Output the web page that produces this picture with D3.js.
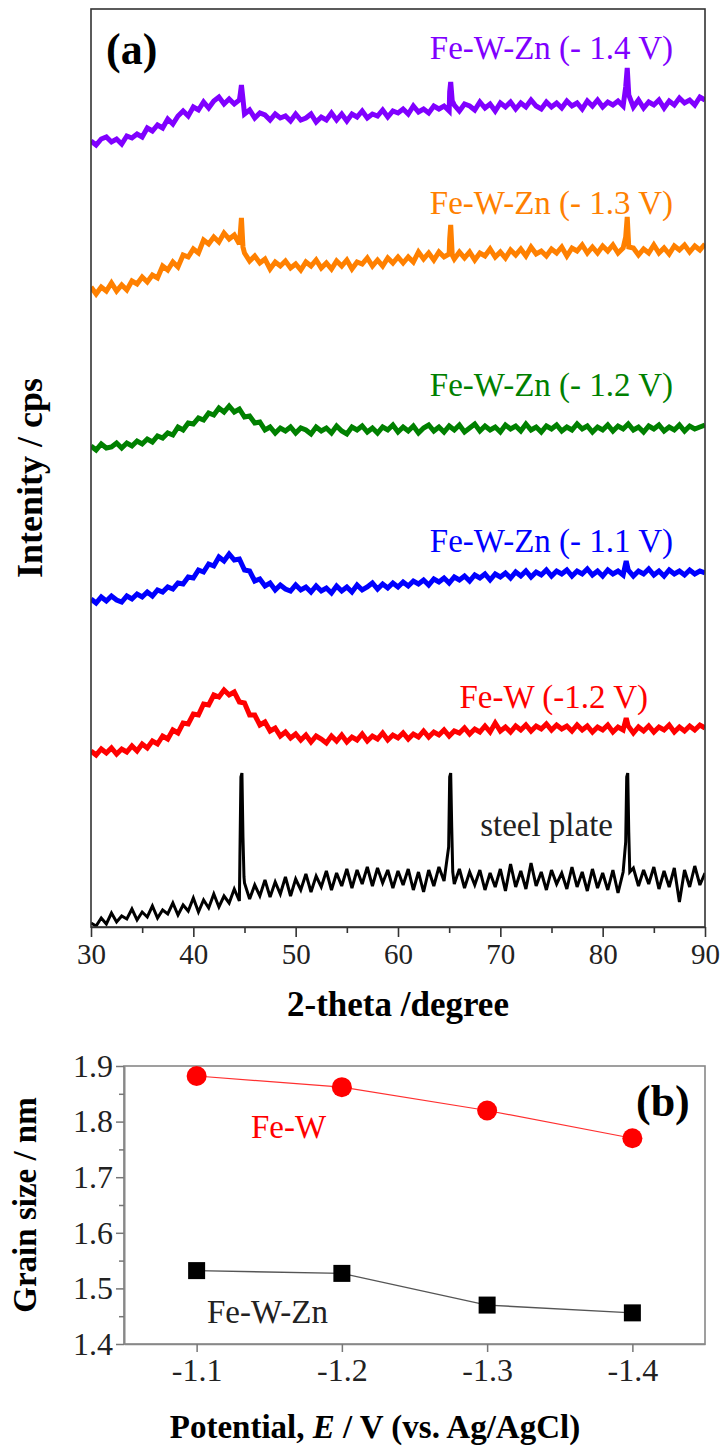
<!DOCTYPE html>
<html>
<head>
<meta charset="utf-8">
<script src="https://cdn.jsdelivr.net/npm/d3@7"></script>
<style>
body { margin: 0; background: #fff; }
svg text { font-family: "Liberation Serif", "Times New Roman", serif; }
</style>
</head>
<body>
<div id="chart"></div>
<script>
// ---------- panel (a) data : XRD patterns, intensity in a.u. (already stacked) ----------
const twoTheta = [
  30,30.5,31,31.5,32,32.5,33,33.5,34,34.5,35,35.5,36,36.5,37,37.5,38,38.5,39,39.5,
  40,40.5,41,41.5,42,42.5,43,43.5,44,44.5,45,45.5,46,46.5,47,47.5,48,48.5,49,49.5,
  50,50.5,51,51.5,52,52.5,53,53.5,54,54.5,55,55.5,56,56.5,57,57.5,58,58.5,59,59.5,
  60,60.5,61,61.5,62,62.5,63,63.5,64,64.5,65,65.5,66,66.5,67,67.5,68,68.5,69,69.5,
  70,70.5,71,71.5,72,72.5,73,73.5,74,74.5,75,75.5,76,76.5,77,77.5,78,78.5,79,79.5,
  80,80.5,81,81.5,82,82.5,83,83.5,84,84.5,85,85.5,86,86.5,87,87.5,88,88.5,89,89.5,90
];

const fewzn14 = [
  786,782,788,790,785,788,783,791,789,793,790,799,796,802,799,808,803,811,816,811,
  820,817,825,819,826,830,823,828,823,827,813,817,809,814,812,807,813,809,811,806,
  813,807,809,813,805,810,807,814,807,813,806,813,810,816,809,813,811,817,810,816,
  814,818,813,821,815,818,814,821,818,821,816,822,816,823,821,817,825,819,823,816,
  824,820,825,818,824,820,827,821,818,825,820,824,819,826,821,824,818,826,821,827,
  820,825,822,826,821,825,820,827,819,825,822,827,819,826,822,829,824,827,822,830,827
];
const fewzn14Peaks = [
  [[44.6, 834], [44.7, 842], [44.85, 828]],
  [[65.05, 835], [65.15, 845], [65.3, 826]],
  [[82.25, 840], [82.4, 859], [82.55, 832]]
];

const fewzn13 = [
  640,633,640,636,644,636,642,637,646,643,650,645,652,649,661,657,665,660,672,670,
  678,674,687,683,690,685,694,688,692,683,674,666,671,664,668,658,665,661,666,659,
  663,657,665,661,667,659,664,658,666,661,667,658,665,663,669,661,667,661,669,664,
  670,664,670,665,675,668,674,667,675,670,673,668,675,669,675,667,674,671,678,670,
  675,669,677,672,678,671,680,673,676,671,678,674,680,671,679,676,682,674,680,674,
  681,676,682,674,679,676,679,672,678,674,682,674,679,673,681,677,682,675,681,677,683
];
const fewzn13Peaks = [
  [[44.6, 695], [44.7, 709], [44.85, 680]],
  [[65.05, 688], [65.15, 702], [65.3, 672]],
  [[82.25, 690], [82.4, 710], [82.55, 680]]
];

const fewzn12 = [
  481,477,483,479,480,484,479,484,481,486,483,488,485,491,489,494,492,500,497,504,
  503,509,507,514,512,519,515,521,515,518,510,511,504,505,497,500,494,499,496,500,
  494,499,497,493,500,496,499,494,501,496,493,500,497,501,495,499,494,500,497,502,
  495,500,496,501,494,499,502,496,500,495,501,497,502,495,499,503,496,501,497,500,
  495,502,498,501,496,503,497,500,495,501,498,502,496,500,497,503,498,501,495,500,
  497,502,496,501,498,503,497,500,495,501,498,502,496,500,497,502,496,501,498,500,502
];

const fewzn11 = [
  328,324,330,326,331,327,325,331,328,333,330,335,331,337,335,340,338,344,343,350,
  349,357,355,363,361,370,366,373,367,368,357,356,346,348,341,344,337,342,338,336,
  342,337,340,335,341,336,339,334,341,336,340,335,342,337,340,344,338,343,339,344,
  340,345,341,346,343,347,342,348,345,349,344,350,347,351,346,352,349,353,347,353,
  350,354,349,355,351,356,350,355,352,357,351,356,353,357,351,356,353,358,352,356,
  351,357,353,356,352,357,351,356,353,358,352,356,351,357,353,356,352,357,353,356,354
];
const fewzn11Peaks = [[[82.3, 366]]];

const few12 = [
  176,172,178,174,179,173,178,175,181,176,183,179,186,183,191,188,197,194,204,203,
  213,212,223,222,232,230,237,232,235,225,224,212,212,202,205,196,199,191,195,189,
  193,187,192,185,191,188,184,191,186,192,185,190,187,193,186,191,188,194,187,192,
  189,194,188,193,190,196,190,195,192,197,191,196,194,199,193,198,195,201,195,204,
  196,200,195,201,197,202,196,201,198,203,197,202,198,201,196,202,197,201,195,200,
  197,202,195,200,197,201,194,200,196,201,195,200,197,202,195,200,196,201,197,202,199
];
const few12Peaks = [[[82.3, 209]]];

const steel = [
  4,1,9,3,14,5,11,8,18,7,15,10,21,9,17,13,24,12,22,16,
  29,15,27,19,33,20,31,24,38,26,44,28,42,31,47,30,45,33,50,31,
  48,37,53,35,51,40,56,37,54,41,58,39,57,43,60,41,59,44,57,39,
  56,42,58,37,55,35,57,41,60,46,52,43,58,39,55,42,57,37,54,40,
  58,36,63,40,56,38,64,41,55,37,57,43,54,38,60,40,55,36,58,39,
  54,37,57,34,55,47,59,41,57,43,60,38,56,40,59,25,57,40,61,42,54
];
const steelPeaks = [
  [[44.55, 70], [44.65, 150], [44.75, 154], [44.85, 90], [44.95, 50]],
  [[64.95, 80], [65.05, 150], [65.15, 154], [65.25, 100], [65.35, 55]],
  [[82.25, 85], [82.35, 150], [82.45, 154], [82.55, 95], [82.65, 55]]
];

const patternNames = ["Fe-W-Zn (- 1.4 V)", "Fe-W-Zn (- 1.3 V)", "Fe-W-Zn (- 1.2 V)",
                      "Fe-W-Zn (- 1.1 V)", "Fe-W (-1.2 V)", "steel plate"];
const patternColors = ["#8000ff", "#ff8000", "#008000", "#0000ff", "#ff0000", "#000000"];

// ---------- panel (b) data : grain size ----------
const potentials = [-1.1, -1.2, -1.3, -1.4];
const grainFeW = [1.882, 1.862, 1.820, 1.770];
const grainFeWZn = [1.532, 1.527, 1.470, 1.456];
const grainTicks = [1.4, 1.5, 1.6, 1.7, 1.8, 1.9];


const svg = d3.select("#chart").append("svg")
    .attr("width", 723)
    .attr("height", 1447);

// merge the sharp reflections into the 0.5 degree scan
function makeSeries(vals, peaks) {
    let pts = twoTheta.map((t, i) => [t, vals[i]]);
    (peaks || []).forEach(p => {
        const lo = p[0][0], hi = p[p.length - 1][0];
        pts = pts.filter(d => d[0] < lo || d[0] > hi).concat(p);
    });
    return pts.sort((a, b) => a[0] - b[0]);
}

// ===== panel (a) =====
const a = {left: 91, right: 705, top: 9, bottom: 927};

const xA = d3.scaleLinear().domain([30, 90]).range([a.left, a.right]);
const yA = d3.scaleLinear().domain([0, a.bottom - a.top]).range([a.bottom, a.top]);

svg.append("clipPath").attr("id", "clipA")
    .append("rect")
    .attr("x", a.left).attr("y", a.top)
    .attr("width", a.right - a.left).attr("height", a.bottom - a.top);

const series = [
    makeSeries(fewzn14, fewzn14Peaks),
    makeSeries(fewzn13, fewzn13Peaks),
    makeSeries(fewzn12, []),
    makeSeries(fewzn11, fewzn11Peaks),
    makeSeries(few12, few12Peaks),
    makeSeries(steel, steelPeaks)
];

const line = d3.line().x(d => xA(d[0])).y(d => yA(d[1]));

// thick stroke so the noisy scan reads as a band, like the measured data
svg.append("g").attr("clip-path", "url(#clipA)")
    .selectAll("path")
    .data(series)
    .join("path")
    .attr("d", line)
    .attr("fill", "none")
    .attr("stroke", (d, i) => patternColors[i])
    .attr("stroke-width", (d, i) => i == 5 ? 3 : 5)
    .attr("stroke-linejoin", "miter")
    .attr("stroke-miterlimit", 3);

// frame
svg.append("rect")
    .attr("x", a.left).attr("y", a.top)
    .attr("width", a.right - a.left).attr("height", a.bottom - a.top)
    .attr("fill", "none").attr("stroke", "#333").attr("stroke-width", 1.6);

const axA = svg.append("g").attr("transform", `translate(0,${a.bottom})`)
    .call(d3.axisBottom(xA).tickValues([30, 40, 50, 60, 70, 80, 90]).tickSize(10).tickSizeOuter(0).tickPadding(6));
svg.append("g").attr("transform", `translate(0,${a.bottom})`)
    .call(d3.axisBottom(xA).tickValues([35, 45, 55, 65, 75, 85]).tickSize(6).tickFormat("").tickSizeOuter(0))
    .select(".domain").remove();
axA.select(".domain").attr("stroke", "#333").attr("stroke-width", 1.6);
svg.selectAll(".tick line").attr("stroke", "#333").attr("stroke-width", 1.6);
axA.attr("font-family", null).attr("font-size", null);
axA.selectAll("text").attr("font-size", 29).attr("fill", "#222");

// curve labels
const labelPos = [[673, 59], [673, 214], [673, 396], [673, 552], [648, 708], [613, 836]];
svg.selectAll(".plabel")
    .data(patternNames)
    .join("text")
    .attr("class", "plabel")
    .attr("x", (d, i) => labelPos[i][0])
    .attr("y", (d, i) => labelPos[i][1])
    .attr("text-anchor", "end")
    .attr("font-size", 33)
    .attr("fill", (d, i) => i == 5 ? "#222" : patternColors[i])
    .text(d => d);

svg.append("text").attr("x", 106).attr("y", 64)
    .attr("font-size", 44).attr("font-weight", "bold").text("(a)");

svg.append("text").attr("x", (a.left + a.right) / 2).attr("y", 1016)
    .attr("text-anchor", "middle").attr("font-size", 35).attr("font-weight", "bold")
    .text("2-theta /degree");

svg.append("text")
    .attr("transform", `translate(42,${(a.top + a.bottom) / 2 + 10}) rotate(-90)`)
    .attr("text-anchor", "middle").attr("font-size", 36).attr("font-weight", "bold")
    .text("Intenity / cps");

// ===== panel (b) =====
const b = {left: 124, right: 705, top: 1066, bottom: 1344};

const xB = d3.scaleLinear().domain([-1.05, -1.45]).range([b.left, b.right]);
const yB = d3.scaleLinear().domain([1.4, 1.9]).range([b.bottom, b.top]);

svg.append("rect")
    .attr("x", b.left).attr("y", b.top)
    .attr("width", b.right - b.left).attr("height", b.bottom - b.top)
    .attr("fill", "none").attr("stroke", "#888").attr("stroke-width", 1.6);

const gyB = svg.append("g").attr("class", "axb").attr("transform", `translate(${b.left},0)`)
    .call(d3.axisLeft(yB).tickValues(grainTicks).tickSize(8).tickSizeOuter(0).tickPadding(3).tickFormat(d3.format(".1f")));
svg.append("g").attr("class", "axb").attr("transform", `translate(${b.left},0)`)
    .call(d3.axisLeft(yB).tickValues([1.45, 1.55, 1.65, 1.75, 1.85]).tickSize(5).tickFormat("").tickSizeOuter(0));
const gxB = svg.append("g").attr("class", "axb").attr("transform", `translate(0,${b.bottom})`)
    .call(d3.axisBottom(xB).tickValues(potentials).tickSize(8).tickSizeOuter(0).tickPadding(6).tickFormat(d3.format(".1f")));
svg.selectAll(".axb").attr("font-family", null).attr("font-size", null);
svg.selectAll(".axb .domain").attr("stroke", "#888").attr("stroke-width", 1.6);
svg.selectAll(".axb .tick line").attr("stroke", "#777").attr("stroke-width", 1.5);
svg.selectAll(".axb text").attr("font-size", 32).attr("fill", "#222");
gxB.selectAll("text").text(d => "-" + Math.abs(d).toFixed(1));

const lineB = d3.line().x((d, i) => xB(potentials[i])).y(d => yB(d));

svg.append("path").datum(grainFeW).attr("d", lineB)
    .attr("fill", "none").attr("stroke", "#ff3030").attr("stroke-width", 1.2);
svg.append("path").datum(grainFeWZn).attr("d", lineB)
    .attr("fill", "none").attr("stroke", "#555").attr("stroke-width", 1.4);

svg.selectAll(".dotFeW").data(grainFeW).join("circle")
    .attr("class", "dotFeW")
    .attr("cx", (d, i) => xB(potentials[i])).attr("cy", d => yB(d))
    .attr("r", 10).attr("fill", "#ff0000");

svg.selectAll(".sqFeWZn").data(grainFeWZn).join("rect")
    .attr("class", "sqFeWZn")
    .attr("x", (d, i) => xB(potentials[i]) - 8.5).attr("y", d => yB(d) - 8.5)
    .attr("width", 17).attr("height", 17).attr("fill", "#000");

svg.append("text").attr("x", 251).attr("y", 1138)
    .attr("font-size", 33).attr("fill", "#ff0000").text("Fe-W");
svg.append("text").attr("x", 207).attr("y", 1323)
    .attr("font-size", 33).attr("fill", "#222").text("Fe-W-Zn");

svg.append("text").attr("x", 636).attr("y", 1116)
    .attr("font-size", 44).attr("font-weight", "bold").text("(b)");

const xt = svg.append("text").attr("x", 375).attr("y", 1438)
    .attr("text-anchor", "middle").attr("font-size", 33).attr("font-weight", "bold");
xt.append("tspan").text("Potential, ");
xt.append("tspan").attr("font-style", "italic").text("E");
xt.append("tspan").text(" / V (vs. Ag/AgCl)");

svg.append("text")
    .attr("transform", `translate(36,${(b.top + b.bottom) / 2}) rotate(-90)`)
    .attr("text-anchor", "middle").attr("font-size", 33).attr("font-weight", "bold")
    .text("Grain size / nm");
</script>
</body>
</html>
